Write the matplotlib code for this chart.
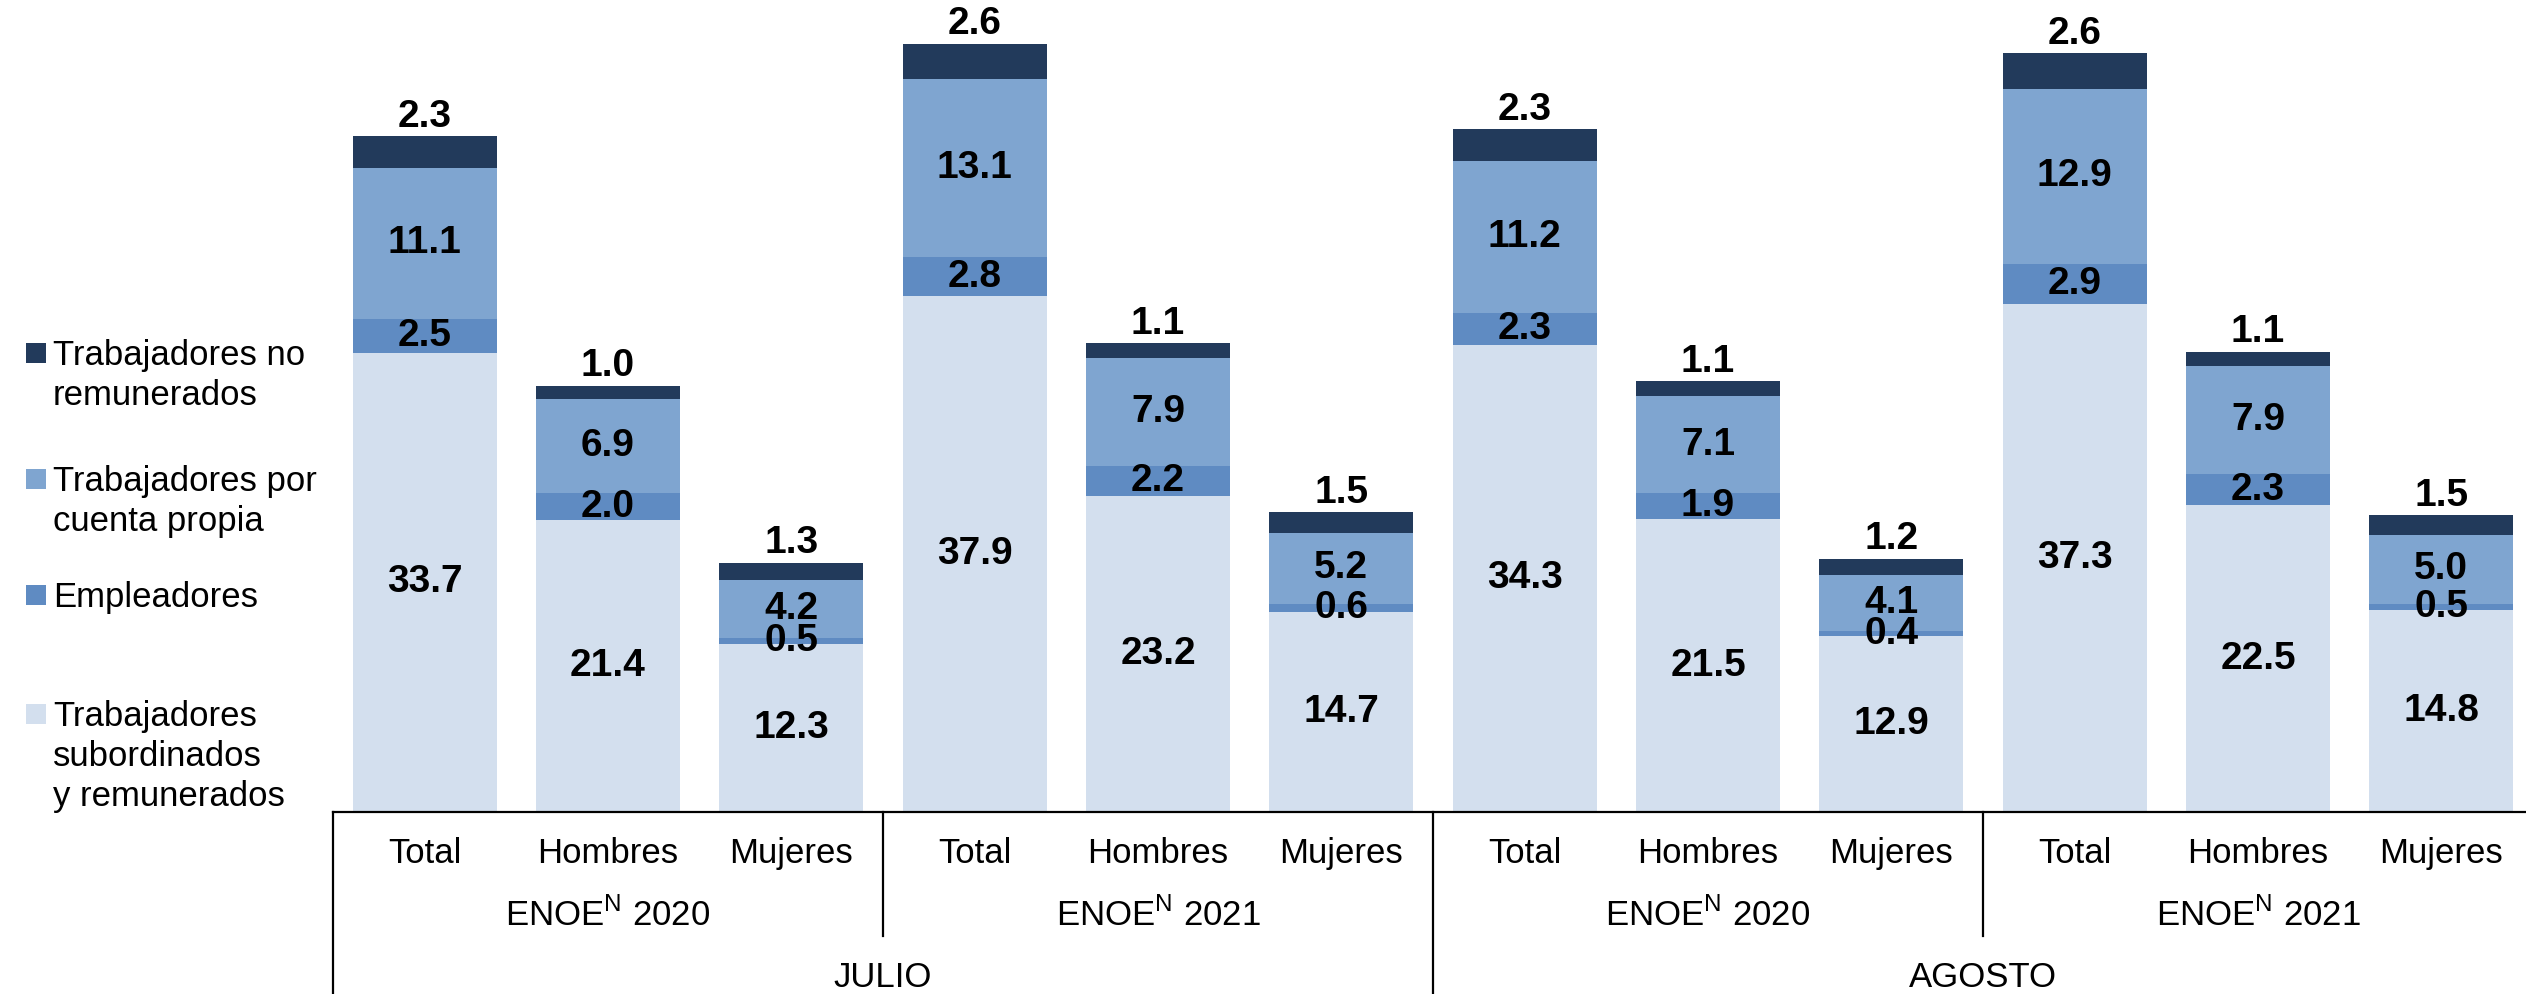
import matplotlib.pyplot as plt
from matplotlib.patches import Rectangle
import numpy as np

plt.rcParams['font.family'] = ['Liberation Sans', 'DejaVu Sans']
plt.rcParams['mathtext.fontset'] = 'custom'
plt.rcParams['mathtext.rm'] = 'Liberation Sans'

# Datos (millones de personas) - orden: JULIO 2020, JULIO 2021, AGOSTO 2020, AGOSTO 2021
categorias = ['Total', 'Hombres', 'Mujeres'] * 4
encuestas = ['ENOE$^{\\mathregular{N}}$ 2020', 'ENOE$^{\\mathregular{N}}$ 2021'] * 2
meses = ['JULIO', 'AGOSTO']

subordinados = [33.7, 21.4, 12.3, 37.9, 23.2, 14.7, 34.3, 21.5, 12.9, 37.3, 22.5, 14.8]
empleadores = [2.5, 2.0, 0.5, 2.8, 2.2, 0.6, 2.3, 1.9, 0.4, 2.9, 2.3, 0.5]
cuenta_propia = [11.1, 6.9, 4.2, 13.1, 7.9, 5.2, 11.2, 7.1, 4.1, 12.9, 7.9, 5.0]
no_remunerados = [2.3, 1.0, 1.3, 2.6, 1.1, 1.5, 2.3, 1.1, 1.2, 2.6, 1.1, 1.5]

series = [subordinados, empleadores, cuenta_propia, no_remunerados]
etiquetas = ['Trabajadores\nsubordinados\ny remunerados', 'Empleadores',
             'Trabajadores por\ncuenta propia', 'Trabajadores no\nremunerados']
colores = ['#D3DFEE', '#5F8BC2', '#7FA5D0', '#223A5B']

W, H = 2526, 994
fig = plt.figure(figsize=(W / 100, H / 100), dpi=100)
ax = fig.add_axes([333 / W, (H - 812) / H, 2200 / W, 812 / H])

x = np.arange(len(categorias))
base = np.zeros(len(categorias))
for i, (vals, col) in enumerate(zip(series, colores)):
    bars = ax.bar(x, vals, 0.785, bottom=base, color=col, linewidth=0)
    labs = [f'{v:.1f}' for v in vals]
    if i == len(series) - 1:
        ax.bar_label(bars, labels=labs, label_type='edge', padding=1,
                     fontsize=28, fontweight='bold')
    else:
        ax.bar_label(bars, labels=labs, label_type='center',
                     fontsize=28, fontweight='bold')
    base += np.array(vals)

ax.set_xlim(-0.5, 11.5)
ax.set_ylim(0, 59.6)
for s in ['top', 'left', 'right']:
    ax.spines[s].set_visible(False)
ax.spines['bottom'].set_linewidth(1.6)
ax.set_xticks([])
ax.set_yticks([])

# Ejes de categorias en varios niveles
tr = ax.get_xaxis_transform()
for xi, c in zip(x, categorias):
    ax.text(xi, -0.0505, c, transform=tr, ha='center', va='center', fontsize=25)
for j, e in enumerate(encuestas):
    ax.text(3 * j + 1, -0.1268, e, transform=tr, ha='center', va='center', fontsize=25)
for j, m in enumerate(meses):
    ax.text(6 * j + 2.5, -0.2044, m, transform=tr, ha='center', va='center', fontsize=25)
for xv in [-0.5, 5.5]:
    ax.plot([xv, xv], [0, -0.23], transform=tr, color='black', lw=1.6, clip_on=False)
for xv in [2.5, 8.5]:
    ax.plot([xv, xv], [0, -0.1527], transform=tr, color='black', lw=1.6, clip_on=False)

# Leyenda manual
leg_tops = [702, 583, 467, 341]
for lab, col, yt in zip(etiquetas, colores, leg_tops):
    fig.add_artist(Rectangle((26 / W, 1 - (yt + 22) / H), 20 / W, 20 / H,
                             transform=fig.transFigure, color=col, lw=0))
    fig.text(53 / W, 1 - (yt - 2) / H, lab, ha='left', va='top', fontsize=25,
             linespacing=1.26)

fig.savefig('out.png', dpi=100)
